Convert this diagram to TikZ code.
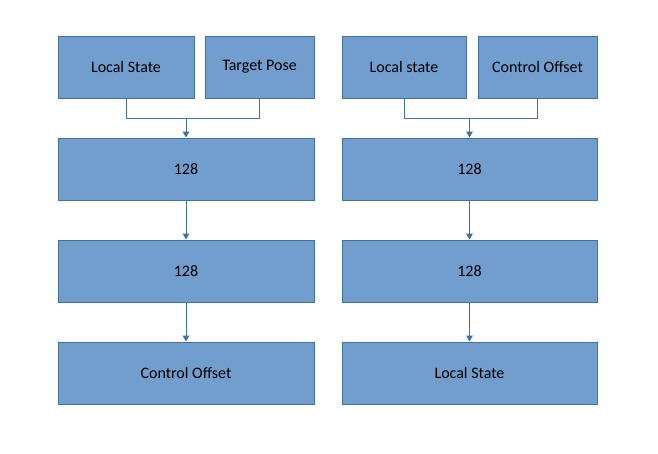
\documentclass[tikz,border=0pt]{standalone}
\usepackage{fontspec}
\setmainfont{Carlito}
\usetikzlibrary{arrows.meta}
\definecolor{boxfill}{HTML}{729ECE}
\definecolor{boxline}{HTML}{41719C}
\tikzset{layer/.style={draw=boxline, fill=boxfill, line width=0.75pt, inner sep=0pt,
   minimum height=46.5pt, font=\fontsize{12}{14}\selectfont, text=black},
 link/.style={draw=boxline, line width=0.75pt},
 flow/.style={link, -{Triangle[length=4.5pt, width=5pt]}},
 }

\begin{document}
\begin{tikzpicture}[x=0.75pt, y=-0.75pt]
        \useasboundingbox (0,0) rectangle (658,454);
        % policy network
        \node[layer, minimum width=102pt] (lsA) at (126,67) {Local State};
        \node[layer, minimum width=81.75pt] (tp) at (259.5,67) {Target Pose};
        \node[layer, minimum width=192pt] (hA1) at (186,169) {128};
        \node[layer, minimum width=192pt] (hA2) at (186,271) {128};
        \node[layer, minimum width=192pt] (co) at (186,373) {Control Offset};
        \coordinate (mA) at (186,118);
        \draw[link] (lsA.south) |- (mA);
        \draw[link] (tp.south) |- (mA);
        \draw[flow] (mA) -- (hA1.north);
        \draw[flow] (hA1) -- (hA2);
        \draw[flow] (hA2) -- (co);
        % dynamics network
        \node[layer, minimum width=93pt] (lsB) at (404,67) {Local state};
        \node[layer, minimum width=89.25pt] (ci) at (537.5,67) {Control Offset};
        \node[layer, minimum width=191.25pt] (hB1) at (469.5,169) {128};
        \node[layer, minimum width=191.25pt] (hB2) at (469.5,271) {128};
        \node[layer, minimum width=191.25pt] (lo) at (469.5,373) {Local State};
        \coordinate (mB) at (469.5,118);
        \draw[link] (lsB.south) |- (mB);
        \draw[link] (ci.south) |- (mB);
        \draw[flow] (mB) -- (hB1.north);
        \draw[flow] (hB1) -- (hB2);
        \draw[flow] (hB2) -- (lo);
    \end{tikzpicture}
\end{document}
